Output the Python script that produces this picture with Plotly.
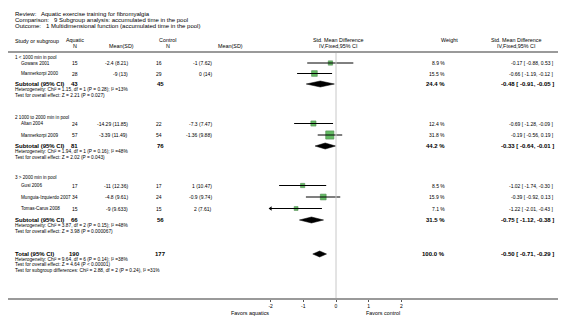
import plotly.graph_objects as go

W, H = 566, 324

# ---------------- data ----------------
title_lines = [
    "Review:   Aquatic exercise training for fibromyalgia",
    "Comparison:   9 Subgroup analysis: accumulated time in the pool",
    "Outcome:   1 Multidimensional function (accumulated time in the pool)",
]
group_labels = ["1 < 1000 min in pool", "2 1000 to 2000 min in pool", "3 > 2000 min in pool"]
study_names = ["Gowans 2001", "Mannerkorpi 2000", "Altan 2004", "Mannerkorpi 2009",
               "Gusi 2006", "Munguia-Izquierdo 2007", "Tomas-Carus 2008"]
aq_n = [15, 28, 24, 57, 17, 34, 15]
aq_mean_sd = ["-2.4 (8.21)", "-9 (13)", "-14.29 (11.85)", "-3.39 (11.49)",
              "-11 (12.36)", "-4.8 (9.61)", "-9 (9.633)"]
ct_n = [16, 29, 22, 54, 17, 24, 15]
ct_mean_sd = ["-1 (7.62)", "0 (14)", "-7.3 (7.47)", "-1.36 (9.88)",
              "1 (10.47)", "-0.9 (9.74)", "2 (7.61)"]
weights = [8.9, 15.5, 12.4, 31.8, 8.5, 15.9, 7.1]
smd = [-0.17, -0.66, -0.69, -0.19, -1.02, -0.39, -1.22]
ci_lo = [-0.88, -1.19, -1.28, -0.56, -1.74, -0.92, -2.01]
ci_hi = [0.53, -0.12, -0.09, 0.19, -0.30, 0.13, -0.43]

sub_aq_n = [43, 81, 66]
sub_ct_n = [45, 76, 56]
sub_weight = [24.4, 44.2, 31.5]
sub_smd = [-0.48, -0.33, -0.75]
sub_lo = [-0.91, -0.64, -1.12]
sub_hi = [-0.05, -0.01, -0.38]
sub_het = [
    "Heterogeneity: Chi² = 1.15, df = 1 (P = 0.28); I² =13%",
    "Heterogeneity: Chi² = 1.94, df = 1 (P = 0.16); I² =48%",
    "Heterogeneity: Chi² = 3.87, df = 2 (P = 0.15); I² =48%",
]
sub_test = [
    "Test for overall effect: Z = 2.21 (P = 0.027)",
    "Test for overall effect: Z = 2.02 (P = 0.043)",
    "Test for overall effect: Z = 3.98 (P = 0.000067)",
]
total_aq_n = 190
total_ct_n = 177
total_weight = 100.0
total_smd = -0.50
total_lo = -0.71
total_hi = -0.29
total_notes = [
    "Heterogeneity: Chi² = 9.64, df = 6 (P = 0.14); I² =38%",
    "Test for overall effect: Z = 4.64 (P < 0.00001)",
    "Test for subgroup differences: Chi² = 2.88, df = 2 (P = 0.24), I² =31%",
]
tick_vals = [-2, -1, 0, 1, 2]
favors_left = "Favors aquatics"
favors_right = "Favors control"

# ---------------- layout (pixel positions) ----------------
ZERO_PX = 328.0
UNIT_PX = 32.7
AXIS_Y = 290
title_y = [6, 12, 18]
hdr_y1, hdr_y2 = 32, 38
line_y = 44
group_y = [49, 109, 169]
study_y = [55, 65.5, 115.5, 127, 177.5, 189, 200.5]
sub_y = [76, 138, 212]
total_y = 246
X_LEFT, X_STUDY = 5, 11
X_AQN, X_AQM, X_CTN, X_CTM = 72, 122, 156, 206
X_W, X_CI = 439, 548

FONT = "Liberation Sans, Arial, sans-serif"
FS_TITLE = 6.0     # review / comparison / outcome
FS_HDR = 5.4       # column headers
FS_NAME = 4.6      # study names and group labels
FS = 5.0           # numbers
FSB = 6.0          # bold subtotal rows
FSN = 4.8          # heterogeneity notes
GREEN = "#23a023"


def px2paper(px):
    return px / W


fig = go.Figure()
ann = []


def txt(x, y, s, size=FS, anchor="left", bold=False, paper_y=False):
    ann.append(dict(x=px2paper(x), xref="paper",
                    y=(1 - y / H) if paper_y else y, yref="paper" if paper_y else "y",
                    text=(f"<b>{s}</b>" if bold else s),
                    showarrow=False, xanchor=anchor, yanchor="middle",
                    font=dict(family=FONT, size=size, color="black")))


# titles
for t, y in zip(title_lines, title_y):
    txt(X_LEFT, y, t, size=FS_TITLE)

# headers
txt(X_LEFT, hdr_y1 + 1, "Study or subgroup", size=FS_HDR)
txt(67, hdr_y1, "Aquatic", size=FS_HDR, anchor="center")
txt(67, hdr_y2, "N", size=FS_HDR, anchor="center")
txt(113, hdr_y2, "Mean(SD)", size=FS_HDR, anchor="center")
txt(159, hdr_y1, "Control", size=FS_HDR, anchor="center")
txt(160, hdr_y2, "N", size=FS_HDR, anchor="center")
txt(222, hdr_y2, "Mean(SD)", size=FS_HDR, anchor="center")
txt(330, hdr_y1, "Std. Mean Difference", size=FS_HDR, anchor="center")
txt(330, hdr_y2, "IV,Fixed,95% CI", size=FS_HDR, anchor="center")
txt(441, hdr_y1, "Weight", size=FS_HDR, anchor="center")
txt(508, hdr_y1, "Std. Mean Difference", size=FS_HDR, anchor="center")
txt(508, hdr_y2, "IV,Fixed,95% CI", size=FS_HDR, anchor="center")

# group labels
for g, y in zip(group_labels, group_y):
    txt(X_LEFT, y, g, size=FS_NAME)

# studies
for i, name in enumerate(study_names):
    y = study_y[i]
    txt(X_STUDY, y, name, size=FS_NAME)
    txt(X_AQN, y, str(aq_n[i]), anchor="right")
    txt(X_AQM, y, aq_mean_sd[i], anchor="right")
    txt(X_CTN, y, str(ct_n[i]), anchor="right")
    txt(X_CTM, y, ct_mean_sd[i], anchor="right")
    txt(X_W, y, f"{weights[i]:.1f} %", anchor="right")
    txt(X_CI, y, f"{smd[i]:.2f} [ {ci_lo[i]:.2f}, {ci_hi[i]:.2f} ]", anchor="right")

# subtotals
for g in range(3):
    y = sub_y[g]
    txt(X_LEFT, y, "Subtotal (95% CI)", size=FSB, bold=True)
    txt(X_AQN, y, str(sub_aq_n[g]), size=FSB, anchor="right", bold=True)
    txt(X_CTN + 2, y, str(sub_ct_n[g]), size=FSB, anchor="right", bold=True)
    txt(X_W, y, f"{sub_weight[g]:.1f} %", size=FSB, anchor="right", bold=True)
    txt(X_CI, y, f"{sub_smd[g]:.2f} [ {sub_lo[g]:.2f}, {sub_hi[g]:.2f} ]", size=FSB, anchor="right", bold=True)
    txt(X_LEFT, y + 5.5, sub_het[g], size=FSN)
    txt(X_LEFT, y + 11, sub_test[g], size=FSN)

# total
txt(X_LEFT, total_y, "Total (95% CI)", size=FSB, bold=True)
txt(X_AQN + 2, total_y, str(total_aq_n), size=FSB, anchor="right", bold=True)
txt(X_CTN + 4, total_y, str(total_ct_n), size=FSB, anchor="right", bold=True)
txt(X_W, total_y, f"{total_weight:.1f} %", size=FSB, anchor="right", bold=True)
txt(X_CI, total_y, f"{total_smd:.2f} [ {total_lo:.2f}, {total_hi:.2f} ]", size=FSB, anchor="right", bold=True)
for k, note in enumerate(total_notes):
    txt(X_LEFT, total_y + 5.5 + 5.3 * k, note, size=FSN)

# favors labels (below axis, paper coordinates)
txt(ZERO_PX - 2 * UNIT_PX, AXIS_Y + 15, favors_left, size=FS_HDR, anchor="right", paper_y=True)
txt(ZERO_PX + 0.85 * UNIT_PX, AXIS_Y + 15, favors_right, size=FS_HDR, anchor="left", paper_y=True)

# ---------------- marks ----------------
lo_lim, hi_lim = min(tick_vals), max(tick_vals)

# squares (area proportional to weight)
fig.add_trace(go.Scatter(
    x=smd, y=study_y, mode="markers",
    marker=dict(symbol="square", size=[1.45 * w ** 0.5 for w in weights], color=GREEN,
                line=dict(color="#0a5a0a", width=0.6)),
    hoverinfo="skip", showlegend=False))

# CI lines
lx, ly = [], []
for i in range(len(smd)):
    lx += [max(ci_lo[i], lo_lim), min(ci_hi[i], hi_lim), None]
    ly += [study_y[i], study_y[i], None]
fig.add_trace(go.Scatter(x=lx, y=ly, mode="lines", line=dict(color="black", width=1),
                         hoverinfo="skip", showlegend=False))

# arrows for CIs running past the axis
arr_x = [lo_lim for i in range(len(smd)) if ci_lo[i] < lo_lim]
arr_y = [study_y[i] for i in range(len(smd)) if ci_lo[i] < lo_lim]
if arr_x:
    fig.add_trace(go.Scatter(x=arr_x, y=arr_y, mode="markers",
                             marker=dict(symbol="triangle-left", size=4, color="black"),
                             hoverinfo="skip", showlegend=False))

# diamonds
DH = 3.0
for lo, m, hi, y in list(zip(sub_lo, sub_smd, sub_hi, sub_y)) + [(total_lo, total_smd, total_hi, total_y)]:
    fig.add_trace(go.Scatter(x=[lo, m, hi, m, lo], y=[y, y - DH, y, y + DH, y],
                             mode="lines", fill="toself", fillcolor="black",
                             line=dict(color="black", width=0.5),
                             hoverinfo="skip", showlegend=False))

# shapes: header line, zero line
shapes = [
    dict(type="line", xref="paper", yref="y", x0=0, x1=1, y0=line_y, y1=line_y,
         line=dict(color="#9a9a9a", width=2)),
    dict(type="line", xref="x", yref="y", x0=0, x1=0, y0=line_y + 1, y1=AXIS_Y,
         line=dict(color="#c8c8c8", width=1)),
]

fig.update_layout(
    width=W, height=H, margin=dict(l=0, r=0, t=0, b=0, pad=0),
    paper_bgcolor="white", plot_bgcolor="white", template="none",
    annotations=ann, shapes=shapes, showlegend=False,
    xaxis=dict(range=[-ZERO_PX / UNIT_PX, (W - ZERO_PX) / UNIT_PX], domain=[0, 1],
               showgrid=False, zeroline=False, showline=True, linecolor="#9a9a9a", linewidth=2,
               tickvals=tick_vals, ticktext=[str(v) for v in tick_vals], ticks="outside",
               ticklen=2, tickcolor="#555", tickwidth=1,
               tickfont=dict(family=FONT, size=5, color="black"), automargin=False, fixedrange=True),
    yaxis=dict(range=[AXIS_Y, 0], domain=[(H - AXIS_Y) / H, 1], visible=False,
               showgrid=False, zeroline=False, automargin=False, fixedrange=True),
)

fig.write_html("out.html")
